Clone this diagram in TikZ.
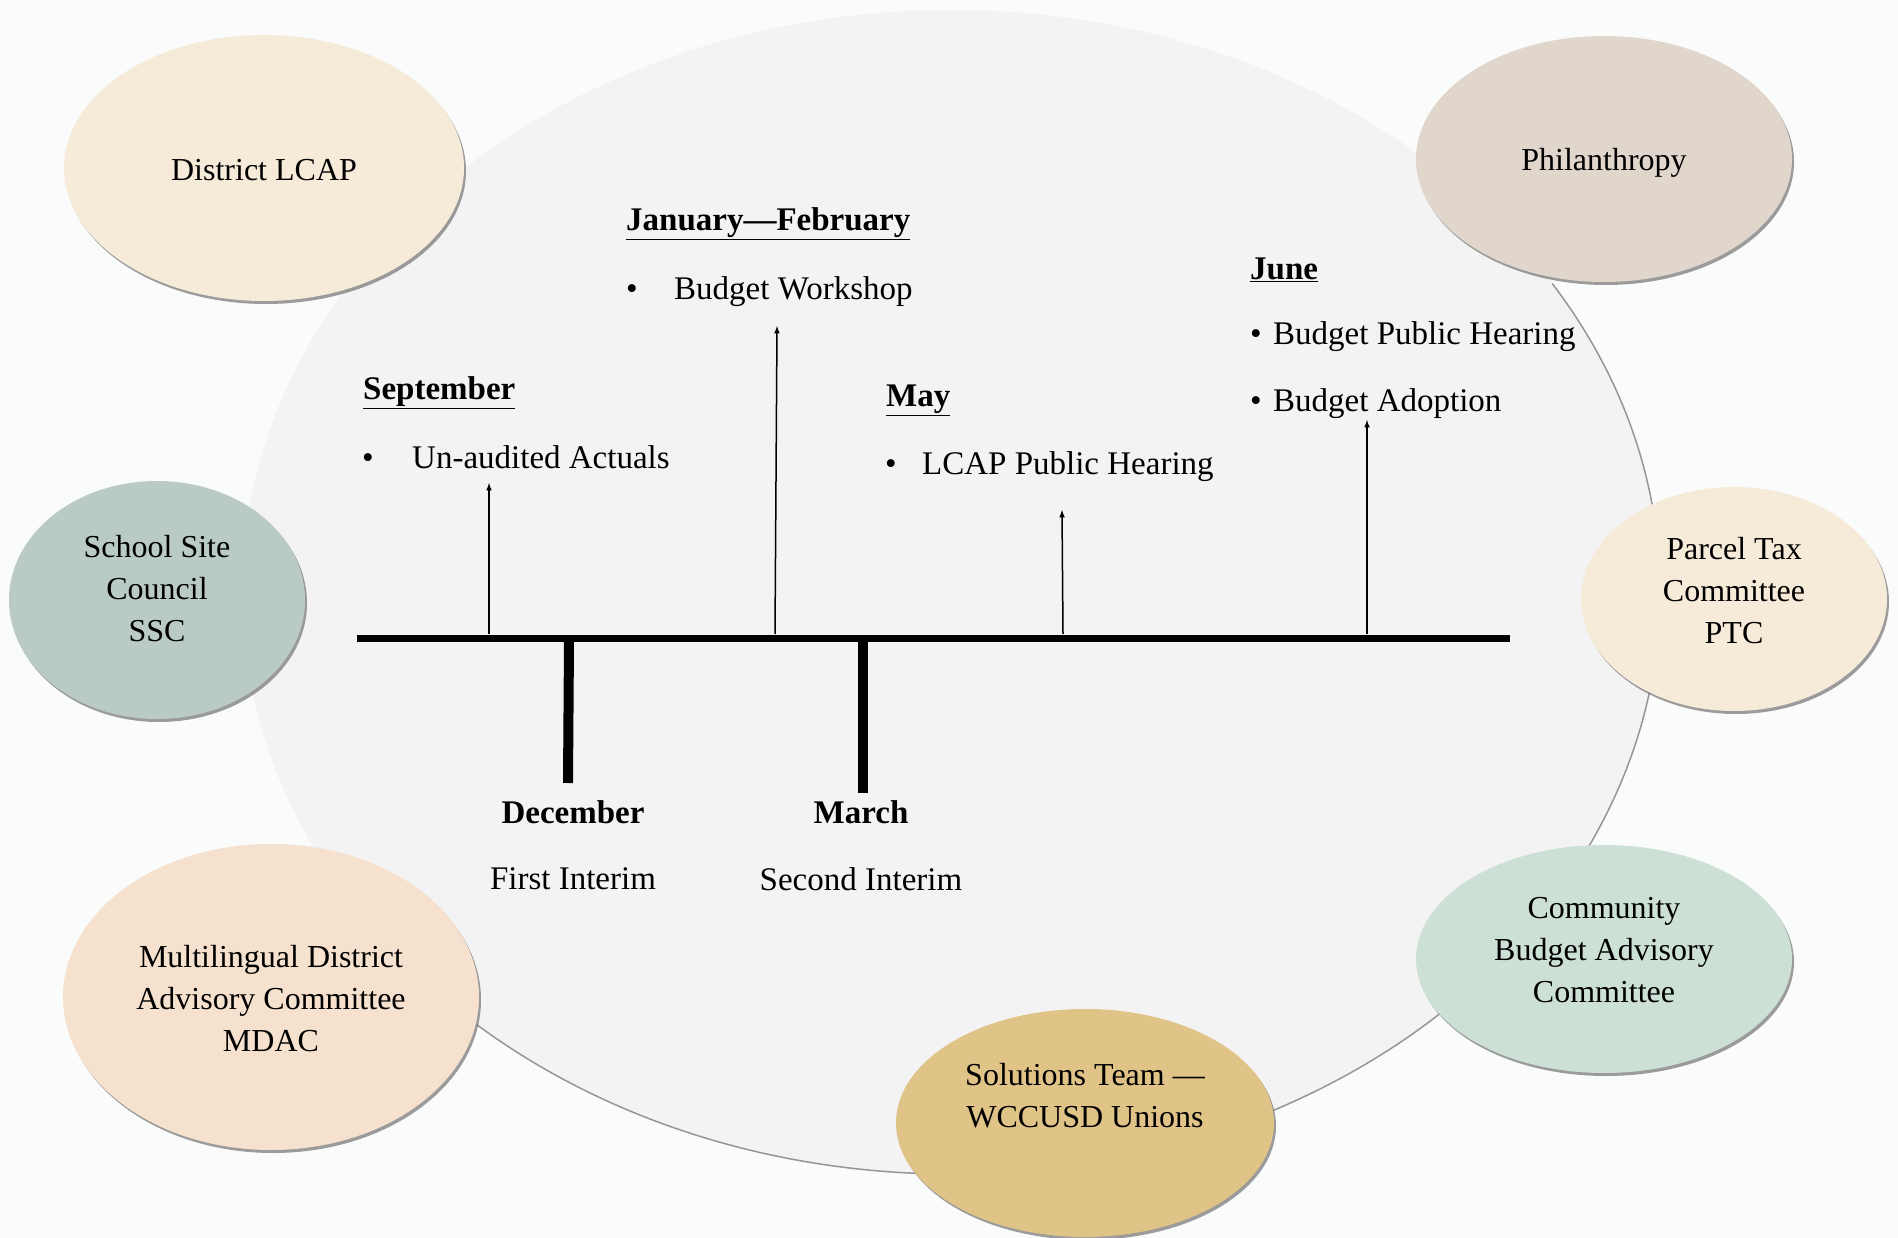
\documentclass[tikz,border=0pt]{standalone}
\usepackage{fontspec}
\setmainfont{Liberation Serif}
\usetikzlibrary{shapes.geometric,shadows,arrows}
\definecolor{pagebg}{RGB}{250,251,251}
\definecolor{cyclefill}{RGB}{243,243,244}
\definecolor{cycleline}{RGB}{150,150,150}
\definecolor{lcapfill}{RGB}{246,235,217}
\definecolor{sscfill}{RGB}{185,203,194}
\definecolor{mdacfill}{RGB}{245,225,205}
\definecolor{solfill}{RGB}{224,195,134}
\definecolor{cbacfill}{RGB}{205,224,214}
\definecolor{ptcfill}{RGB}{246,235,217}
\definecolor{philfill}{RGB}{224,214,204}
\tikzset{
	group/.style={ellipse, inner sep=0pt, drop shadow={shadow xshift=2pt, shadow yshift=-3pt, fill=black!55, opacity=0.7}},
	grouptext/.style={align=center, inner sep=0pt, font=\fontsize{32}{42}\selectfont},
	month/.style={anchor=west, inner sep=0pt, font=\fontsize{33}{40}\selectfont\bfseries},
	item/.style={anchor=west, inner sep=0pt, font=\fontsize{33}{40}\selectfont},
	interim/.style={inner sep=0pt, font=\fontsize{33}{40}\selectfont},
}
\begin{document}
\begin{tikzpicture}[>=latex, x=1pt, y=-1pt]
	\useasboundingbox [fill=pagebg] (0,0) rectangle (1898,1238);
	% the year
	\node [ellipse, fill=cyclefill, minimum width=1418pt, minimum height=1164pt, inner sep=0pt] (cycle) at (951,592) {};
	\draw [cycleline, line width=1.5pt] (cycle.center) ++(32:709pt and 582pt) arc [start angle=32, end angle=-132, x radius=709pt, y radius=582pt];
	% groups round the year
	\node [group, fill=lcapfill, minimum width=400pt, minimum height=266pt] (lcap) at (264,168) {};
	\node [grouptext] (lcaptext) at (264,170) {District LCAP};
	\node [group, fill=sscfill, minimum width=296pt, minimum height=238pt] (ssc) at (157,600) {};
	\node [grouptext] (ssctext) at (157,589) {School Site\\Council\\SSC};
	\node [group, fill=mdacfill, minimum width=416pt, minimum height=306pt] (mdac) at (271,997) {};
	\node [grouptext] (mdactext) at (271,999) {Multilingual District\\Advisory Committee\\MDAC};
	\node [group, fill=solfill, minimum width=378pt, minimum height=228pt] (sol) at (1085,1123) {};
	\node [grouptext] (soltext) at (1085,1096) {Solutions Team —\\WCCUSD Unions};
	\node [group, fill=cbacfill, minimum width=376pt, minimum height=228pt] (cbac) at (1604,959) {};
	\node [grouptext] (cbactext) at (1604,950) {Community\\Budget Advisory\\Committee};
	\node [group, fill=ptcfill, minimum width=306pt, minimum height=224pt] (ptc) at (1734,599) {};
	\node [grouptext] (ptctext) at (1734,591) {Parcel Tax\\Committee\\PTC};
	\node [group, fill=philfill, minimum width=376pt, minimum height=246pt] (phil) at (1604,159) {};
	\node [grouptext] (philtext) at (1604,163) {Philanthropy};
	% timeline
	\coordinate (tlstart) at (357,638);
	\coordinate (tlend) at (1510,638);
	\draw [line width=7pt] (tlstart) -- (tlend);
	\coordinate (decroot) at (569,641);
	\coordinate (decend) at (568,783);
	\draw [line width=10pt] (decroot) -- (decend);
	\coordinate (marroot) at (863,641);
	\coordinate (marend) at (863,793);
	\draw [line width=10pt] (marroot) -- (marend);
	\node [interim, font=\fontsize{33}{40}\selectfont\bfseries] (dec) at (573,812) {December};
	\node [interim] (decitem) at (573,879) {First Interim};
	\node [interim, font=\fontsize{33}{40}\selectfont\bfseries] (mar) at (861,812) {March};
	\node [interim] (maritem) at (861,879) {Second Interim};
	% events above the line
	\node [month] (sep) at (363,393) {\underline{September}};
	\node [item] (sepitem) at (362,457) {\makebox[50pt][l]{\textbullet}Un-audited Actuals};
	\node [month] (jan) at (626,224) {\underline{January—February}};
	\node [item] (janitem) at (626,292) {\makebox[48pt][l]{\textbullet}Budget Workshop};
	\node [month] (may) at (886,400) {\underline{May}};
	\node [item] (mayitem) at (885,467) {\makebox[37pt][l]{\textbullet}LCAP Public Hearing};
	\node [month] (jun) at (1250,270) {\underline{June}};
	\node [item] (junitema) at (1250,337) {\makebox[23pt][l]{\textbullet}Budget Public Hearing};
	\node [item] (junitemb) at (1250,404) {\makebox[23pt][l]{\textbullet}Budget Adoption};
	\coordinate (seproot) at (489,634);
	\coordinate (septip) at (489,483);
	\coordinate (janroot) at (775,634);
	\coordinate (jantip) at (777,326);
	\coordinate (mayroot) at (1063,634);
	\coordinate (maytip) at (1062,510);
	\coordinate (junroot) at (1367,634);
	\coordinate (juntip) at (1367,420);
	\draw [->, line width=1.5pt] (seproot) -- (septip);
	\draw [->, line width=1.5pt] (janroot) -- (jantip);
	\draw [->, line width=1.5pt] (mayroot) -- (maytip);
	\draw [->, line width=1.5pt] (junroot) -- (juntip);
\end{tikzpicture}
\end{document}
